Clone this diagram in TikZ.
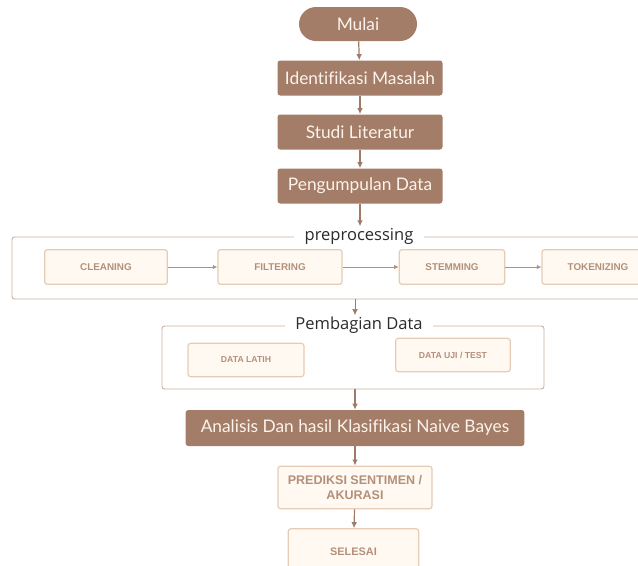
\documentclass[tikz,border=0pt]{standalone}
\usepackage{fontspec}
\setmainfont{Liberation Sans}
\newfontfamily\darkfont[Ligatures=NoCommon]{Lato}
\newfontfamily\titlefont{Open Sans}
\usepackage{tikz}
\usetikzlibrary{positioning,arrows.meta,shapes.geometric,calc}
\definecolor{brn}{HTML}{A47D68}
\definecolor{brnline}{HTML}{9E7B69}
\definecolor{cream}{HTML}{FFF9F1}
\definecolor{creamedge}{HTML}{E6CBB5}
\definecolor{lighttxt}{HTML}{B3907B}
\definecolor{frameedge}{HTML}{CDAF9E}
\definecolor{darktxt}{HTML}{FBF3EC}
\definecolor{ttl}{HTML}{2B2B2B}
\tikzset{
  dark/.style  = {fill=brn, draw=none, rounded corners=2pt, align=center,
                  text=darktxt, font=\darkfont\fontsize{13}{15}\selectfont,
                  inner sep=2pt, minimum height=26.25pt},
  term/.style  = {dark, rounded corners=12.75pt, minimum height=25.5pt},
  lite/.style  = {fill=cream, draw=creamedge, line width=0.9pt, rounded corners=2pt,
                  align=center, text=lighttxt, font=\bfseries\fontsize{6.5}{8}\selectfont,
                  inner sep=2pt, minimum height=26pt},
  prep/.style  = {lite, font=\bfseries\fontsize{7.4}{9}\selectfont},
  frame/.style = {draw=frameedge, line width=0.7pt, rounded corners=2pt,
                  inner sep=0pt},
  ttlnode/.style = {fill=white, text=ttl, inner xsep=8pt, inner ysep=1pt,
                  font=\titlefont\fontsize{12.4}{14}\selectfont},
  ar/.style    = {-{Latex[length=1.6mm,width=1.5mm]}, draw=brnline, line width=0.9pt},
  arl/.style   = {-{Latex[length=1.2mm,width=1.1mm]}, draw=lighttxt, line width=0.5pt},
}
\begin{document}
\begin{tikzpicture}[x=0.75pt, y=-0.75pt]
\useasboundingbox (0,0) rectangle (638,565);
\clip (0,0) rectangle (638,565);

% --- upper chain ---
\node[term, minimum width=88.5pt] (mulai) at (358,24) {Mulai};
\node[dark, minimum width=123.75pt] (idf) at (360,78) {Identifikasi Masalah};
\node[dark, minimum width=123.75pt] (lit) at (360,132) {Studi Literatur};
\node[dark, minimum width=123.75pt] (kum) at (360,186) {Pengumpulan Data};

% --- preprocessing ---
\node[frame, minimum width=486pt, minimum height=46.5pt] (pre) at (336,268) {};
\node[ttlnode] (prt) at (359,236) {preprocessing};
\node[prep, minimum width=92pt] (cln) at (106,267) {CLEANING};
\node[prep, minimum width=93pt] (flt) at (280,267) {FILTERING};
\node[prep, minimum width=79pt] (stm) at (452,267) {STEMMING};
\node[prep, minimum width=84pt] (tok) at (598,267) {TOKENIZING};

% --- pembagian data ---
\node[frame, minimum width=286.5pt, minimum height=47.25pt] (pbg) at (353,357.5) {};
\node[ttlnode] (pbt) at (359,325) {Pembagian Data};
\node[lite, minimum width=87pt, minimum height=25pt] (lth) at (246,360) {DATA LATIH};
\node[lite, minimum width=86pt, minimum height=25pt] (uji) at (453,355) {DATA UJI / TEST};

% --- lower chain ---
\node[dark, minimum width=254pt, minimum height=27pt] (anl) at (355,428)
     {Analisis Dan hasil Klasifikasi Naive Bayes};
\node[lite, minimum width=115.5pt, minimum height=32pt,
      font=\bfseries\fontsize{9.4}{11.5}\selectfont] (prd) at (355,487.5)
     {PREDIKSI SENTIMEN /\\AKURASI};
\node[lite, minimum width=98pt, minimum height=34pt,
      font=\bfseries\fontsize{8.2}{10}\selectfont] (sls) at (353.5,551.5) {SELESAI};

\draw[ar] (mulai) -- (idf);
\draw[ar] (idf) -- (lit);
\draw[ar] (lit) -- (kum);
\draw[ar] (kum) -- (kum |- prt.north);
\draw[arl] (cln) -- (flt);
\draw[arl] (flt) -- (stm);
\draw[arl] (stm) -- (tok);
\draw[ar, line width=0.5pt] (pre.south -| anl.north) -- (anl.north |- pbt.north);
\draw[ar] (pbg.south -| anl.north) -- (anl);
\draw[ar] (anl) -- (prd);
\draw[ar] (prd) -- (sls);
\end{tikzpicture}
\end{document}
